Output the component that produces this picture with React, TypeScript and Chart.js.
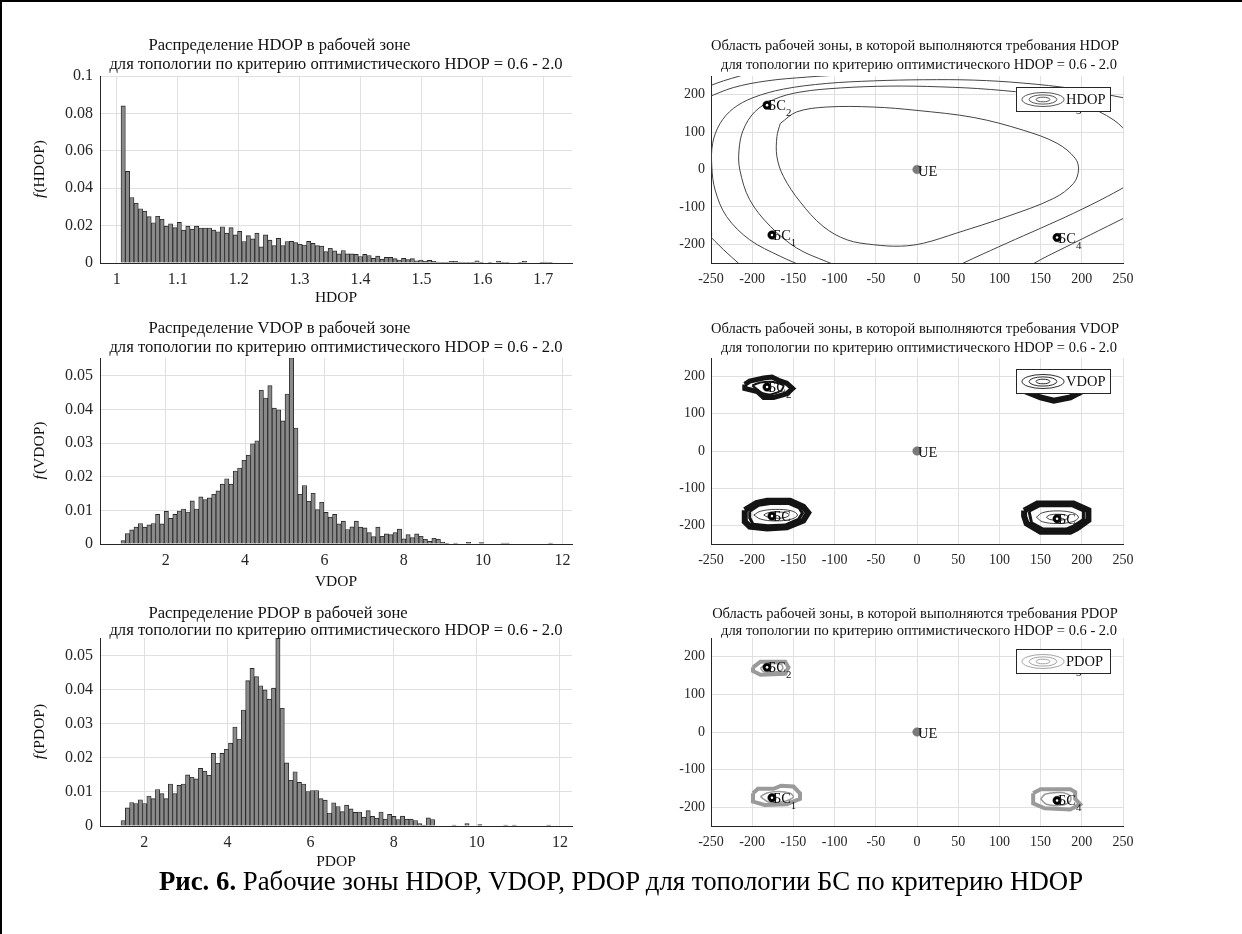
import React, { useEffect, useRef } from 'react';
import { Chart, registerables } from 'chart.js';

Chart.register(...registerables);

const SERIF = '"Liberation Serif", "Times New Roman", Times, serif';
const TEXT = '#111111';
const AXIS = '#262626';
const GRID = '#e0e0e0';
const BAR_FILL = '#8a8a8a';
const BAR_EDGE = '#2a2a2a';
const TICK_SIZE = 16;
const TITLE_SIZE = 16.6;
const LABEL_SIZE = 15.5;
const MAP_TICK_SIZE = 14;
const MAP_TITLE_SIZE = 14.5;
const MAP_LABEL_SIZE = 14.5;

// ---------------- Histogram data ----------------
const subtitle = 'для топологии по критерию оптимистического HDOP = 0.6 - 2.0';

const hdopBinStart = 1.007;
const hdopBinWidth = 0.00708;
const hdopValues = [
  0.084, 0.049, 0.035, 0.032, 0.029, 0.0277, 0.0248, 0.0215, 0.025, 0.0234,
  0.0197, 0.021, 0.0189, 0.0217, 0.0176, 0.0197, 0.0181, 0.0197, 0.0187, 0.0187,
  0.0187, 0.0176, 0.0167, 0.0194, 0.016, 0.0189, 0.015, 0.0169, 0.0115, 0.0146,
  0.0129, 0.016, 0.0086, 0.015, 0.0122, 0.0093, 0.0132, 0.0093, 0.0115, 0.0116,
  0.0109, 0.01, 0.0096, 0.0116, 0.0105, 0.0093, 0.009, 0.0061, 0.0079, 0.0065,
  0.0049, 0.0067, 0.0049, 0.0049, 0.0046, 0.0035, 0.0046, 0.004, 0.0025, 0.0037,
  0.0021, 0.003, 0.003, 0.0023, 0.0016, 0.0025, 0.0018, 0.0023, 0.0012, 0.0016,
  0.001, 0.0014, 0.0009, 0.0005, 0.0004, 0.0004, 0.0009, 0.0009, 0.0005, 0.0003,
  0.0002, 0.0002, 0.0012, 0.0002, 0, 0.0002, 0, 0.0009, 0.0003, 0.0001,
  0, 0, 0.0002, 0.0009, 0, 0, 0, 0.0001, 0.0005, 0.0002,
];
const hdopXTicks = [1, 1.1, 1.2, 1.3, 1.4, 1.5, 1.6, 1.7];
const hdopXTickLabels = ['1', '1.1', '1.2', '1.3', '1.4', '1.5', '1.6', '1.7'];
const hdopYTicks = [0, 0.02, 0.04, 0.06, 0.08, 0.1];
const hdopYTickLabels = ['0', '0.02', '0.04', '0.06', '0.08', '0.1'];

const vdopBinStart = 0.874;
const vdopBinWidth = 0.1088;
const vdopValues = [
  0.001, 0.0031, 0.0042, 0.005, 0.0061, 0.005, 0.0057, 0.0061, 0.0088, 0.006,
  0.0097, 0.0076, 0.0088, 0.0098, 0.0104, 0.0095, 0.0128, 0.0104, 0.014, 0.0132,
  0.0137, 0.0148, 0.0158, 0.0178, 0.0194, 0.0178, 0.0217, 0.0226, 0.0249, 0.0264,
  0.0298, 0.0307, 0.0457, 0.0434, 0.0471, 0.0404, 0.0399, 0.0366, 0.0446, 0.0554,
  0.0345, 0.0148, 0.0174, 0.0127, 0.0151, 0.0102, 0.0124, 0.0094, 0.008, 0.0088,
  0.006, 0.0068, 0.0043, 0.0051, 0.0068, 0.005, 0.0048, 0.0034, 0.0022, 0.005,
  0.0023, 0.003, 0.0028, 0.0034, 0.0044, 0.0015, 0.0028, 0.0019, 0.003, 0.0023,
  0.0014, 0.0008, 0.0017, 0.0014, 0.0006, 0.0001, 0, 0.0003, 0, 0,
  0.0005, 0, 0, 0.0004, 0, 0, 0, 0, 0.0003, 0.0003,
  0, 0, 0, 0, 0, 0, 0, 0, 0, 0.0003,
];
const dopXTicks = [2, 4, 6, 8, 10, 12];
const dopXTickLabels = ['2', '4', '6', '8', '10', '12'];
const dopYTicks = [0, 0.01, 0.02, 0.03, 0.04, 0.05];
const dopYTickLabels = ['0', '0.01', '0.02', '0.03', '0.04', '0.05'];

const pdopBinStart = 1.44;
const pdopBinWidth = 0.1034;
const pdopValues = [
  0.0016, 0.0053, 0.0069, 0.0066, 0.0077, 0.0066, 0.0088, 0.008, 0.0107, 0.0095,
  0.008, 0.0123, 0.0095, 0.0119, 0.0123, 0.015, 0.0143, 0.0138, 0.0169, 0.0161,
  0.0149, 0.0213, 0.0184, 0.0213, 0.0225, 0.0243, 0.029, 0.0255, 0.034, 0.0426,
  0.0462, 0.0438, 0.0411, 0.0399, 0.0372, 0.0404, 0.0551, 0.0345, 0.0185, 0.0134,
  0.0159, 0.0128, 0.0123, 0.0101, 0.0104, 0.0104, 0.008, 0.0076, 0.0038, 0.0068,
  0.0057, 0.0042, 0.0061, 0.005, 0.004, 0.0041, 0.0026, 0.0045, 0.0028, 0.0023,
  0.0041, 0.002, 0.0034, 0.0028, 0.0019, 0.0029, 0.002, 0.002, 0.0016, 0.0007,
  0.0003, 0.0024, 0.0019, 0, 0, 0, 0, 0.0003, 0, 0,
  0.0007, 0, 0, 0.0004, 0, 0, 0, 0, 0, 0.0003,
  0, 0.0003, 0, 0, 0, 0, 0, 0, 0, 0.0003,
];

// ---------------- Contour-map data ----------------
const mapTicksX = [-250, -200, -150, -100, -50, 0, 50, 100, 150, 200, 250];
const mapTicksY = [-200, -100, 0, 100, 200];

const stationX = [-176, -182, 170, 170];
const stationY = [-175, 172, 178, -182];
const stationNames = ['1', '2', '3', '4'];
const ueX = 0;
const ueY = 0;

type Pt = [number, number];

const hdopLine1: Pt[] = [[-166, 123], [-146, 154], [-110, 167], [-53, 167], [0, 158], [69, 139], [129, 105], [170, 70], [192, 30], [196, -1], [190, -37], [166, -77], [109, -126], [48, -170], [8, -197], [-20, -205], [-53, -201], [-85, -188], [-114, -152], [-142, -86], [-162, -19], [-170, 34], [-170, 88], [-166, 123]];
const hdopLine2: Pt[] = [[-73, -277], [-110, -246], [-146, -210], [-178, -152], [-203, -81], [-215, -1], [-216, 52], [-211, 105], [-197, 154], [-174, 187], [-142, 207], [-93, 218], [-33, 223], [28, 221], [89, 214], [150, 199], [202, 172], [239, 132], [259, 88], [275, 40]];
const hdopLine2b: Pt[] = [[275, -10], [259, -37], [231, -72], [190, -117], [150, -157], [109, -197], [69, -237], [44, -263]];
const hdopLine3: Pt[] = [[-134, -263], [-166, -232], [-203, -188], [-231, -126], [-245, -55], [-249, 8], [-248, 70], [-239, 123], [-223, 163], [-199, 192], [-162, 215], [-110, 230], [-53, 237], [8, 240], [69, 239], [129, 231], [190, 216], [250, 192], [263, 185]];
const hdopLine3b: Pt[] = [[263, -117], [231, -152], [190, -197], [150, -241], [133, -263]];
const hdopLine4: Pt[] = [[-255, 192], [-223, 219], [-182, 237], [-134, 247], [-85, 254]];
const hdopLine5: Pt[] = [[-255, 221], [-235, 237], [-215, 250], [-199, 261]];
const hdopLine6: Pt[] = [[-255, -170], [-235, -214], [-215, -254]];

const vdopBlob1Outer: Pt[] = [[-209, -159], [-195, -140], [-182, -134], [-154, -134], [-138, -150], [-132, -166], [-138, -187], [-158, -205], [-182, -208], [-203, -203], [-209, -190], [-209, -159]];
const vdopBlob1Mid: Pt[] = [[-203, -162], [-192, -146], [-178, -141], [-156, -141], [-143, -153], [-139, -167], [-144, -184], [-160, -199], [-181, -201], [-199, -197], [-203, -180], [-203, -162]];
const vdopBlob1InnerA: Pt[] = [[-198, -172], [-190, -162], [-172, -157], [-152, -161], [-145, -172], [-152, -183], [-172, -188], [-190, -183], [-198, -172]];
const vdopBlob1InnerB: Pt[] = [[-186, -172], [-181, -166], [-170, -164], [-159, -166], [-155, -172], [-159, -178], [-170, -181], [-181, -178], [-186, -172]];
const vdopBlob4Outer: Pt[] = [[130, -160], [146, -141], [190, -141], [208, -159], [208, -186], [194, -208], [186, -217], [150, -217], [133, -195], [130, -175], [130, -160]];
const vdopBlob4Mid: Pt[] = [[136, -162], [149, -147], [188, -147], [202, -161], [202, -184], [189, -203], [181, -210], [153, -210], [139, -193], [136, -162]];
const vdopBlob4InnerA: Pt[] = [[145, -178], [152, -166], [170, -161], [189, -166], [196, -178], [189, -190], [170, -195], [152, -190], [145, -178]];
const vdopBlob4InnerB: Pt[] = [[157, -178], [161, -172], [170, -170], [180, -172], [184, -178], [180, -184], [170, -186], [161, -184], [157, -178]];
const vdopBlob2Outer: Pt[] = [[-209, 179], [-203, 188], [-186, 196], [-176, 199], [-168, 190], [-158, 182], [-151, 168], [-158, 154], [-174, 144], [-186, 144], [-194, 160], [-209, 168], [-209, 179]];
const vdopBlob2Inner: Pt[] = [[-200, 176], [-190, 184], [-176, 186], [-162, 176], [-165, 162], [-178, 152], [-188, 156], [-194, 166], [-200, 176]];
const vdopBlob3Outer: Pt[] = [[129, 185], [129, 163], [150, 144], [166, 135], [186, 144], [202, 163], [202, 190], [186, 205], [150, 205], [129, 185]];

const pdopBlob1Outer: Pt[] = [[-199, -163], [-193, -151], [-174, -151], [-165, -143], [-150, -145], [-142, -163], [-142, -178], [-158, -192], [-185, -194], [-199, -185], [-199, -163]];
const pdopBlob1Inner: Pt[] = [[-190, -172], [-182, -162], [-168, -158], [-154, -163], [-150, -173], [-160, -184], [-180, -186], [-190, -172]];
const pdopBlob4Outer: Pt[] = [[141, -163], [150, -152], [186, -152], [192, -160], [192, -178], [198, -192], [186, -206], [155, -203], [141, -190], [141, -163]];
const pdopBlob4Inner: Pt[] = [[150, -178], [156, -165], [175, -161], [186, -170], [186, -184], [175, -195], [157, -192], [150, -178]];
const pdopBlob2Outer: Pt[] = [[-199, 172], [-190, 187], [-160, 187], [-156, 172], [-160, 155], [-190, 152], [-199, 162], [-199, 172]];
const pdopBlob2Inner: Pt[] = [[-190, 170], [-183, 180], [-165, 180], [-163, 168], [-170, 160], [-186, 160], [-190, 170]];
const pdopBlob3Outer: Pt[] = [[140, 190], [150, 162], [190, 162], [196, 190], [172, 205], [140, 190]];

// ---------------- Layout ----------------
type Box = { left: number; top: number; width: number; height: number };
type Area = { l: number; t: number; r: number; b: number };

type HistCfg = {
  box: Box; area: Area; titleY: [number, number]; title1: string; xLabel: string; yName: string; xLabelY: number;
  values: number[]; binStart: number; binWidth: number; xMin: number; xMax: number; yMax: number;
  xTicks: number[]; xTickLabels: string[]; yTicks: number[]; yTickLabels: string[];
};

type LineSpec = { pts: Pt[]; color: string; width: number; tension: number };
type MapCfg = {
  box: Box; area: Area; titleY: [number, number]; title1: string; legend: string; legendColor: string; lines: LineSpec[];
};

function labelFor(v: number, ticks: number[], labels: string[]) {
  let best = 0;
  for (let i = 1; i < ticks.length; i++) if (Math.abs(ticks[i] - v) < Math.abs(ticks[best] - v)) best = i;
  return labels[best];
}

function HistPanel({ cfg }: { cfg: HistCfg }) {
  const ref = useRef<HTMLCanvasElement>(null);
  useEffect(() => {
    const { box, area } = cfg;
    const padTop = area.t - box.top;
    const padRight = box.left + box.width - area.r;
    const leftW = area.l - box.left;
    const bottomH = box.top + box.height - area.b;
    const texts = {
      id: 'histTexts',
      afterDraw(chart: any) {
        const ctx = chart.ctx as CanvasRenderingContext2D;
        const a = chart.chartArea;
        ctx.save();
        ctx.fillStyle = TEXT;
        ctx.textBaseline = 'middle';
        ctx.font = `${TITLE_SIZE}px ${SERIF}`;
        const cx = (a.left + a.right) / 2;
        const w2 = ctx.measureText(subtitle).width;
        ctx.textAlign = 'left';
        ctx.fillText(subtitle, cx - w2 / 2, cfg.titleY[1] - box.top);
        ctx.fillText(cfg.title1, cx - w2 / 2 + 39, cfg.titleY[0] - box.top);
        ctx.textAlign = 'center';
        ctx.font = `${LABEL_SIZE}px ${SERIF}`;
        ctx.fillText(cfg.xLabel, cx, cfg.xLabelY - box.top);
        // y label
        ctx.translate(40 - box.left, (a.top + a.bottom) / 2);
        ctx.rotate(-Math.PI / 2);
        ctx.textAlign = 'left';
        ctx.font = `italic ${LABEL_SIZE}px ${SERIF}`;
        const fw = ctx.measureText('f').width;
        ctx.font = `${LABEL_SIZE}px ${SERIF}`;
        const rest = `(${cfg.yName})`;
        const rw = ctx.measureText(rest).width;
        const x0 = -(fw + rw) / 2;
        ctx.font = `italic ${LABEL_SIZE}px ${SERIF}`;
        ctx.fillText('f', x0, 0);
        ctx.font = `${LABEL_SIZE}px ${SERIF}`;
        ctx.fillText(rest, x0 + fw + 1, 0);
        ctx.restore();
      },
    };
    const chart = new Chart(ref.current as HTMLCanvasElement, {
      type: 'bar',
      data: {
        datasets: [
          {
            data: cfg.values.map((v, i) => ({ x: cfg.binStart + cfg.binWidth * (i + 0.5), y: v })),
            backgroundColor: BAR_FILL,
            borderColor: BAR_EDGE,
            borderWidth: 0.9,
            barPercentage: 1,
            categoryPercentage: 1,
          } as any,
        ],
      },
      options: {
        animation: false,
        responsive: false,
        maintainAspectRatio: false,
        layout: { padding: { top: padTop, right: padRight, left: 0, bottom: 0 } },
        plugins: { legend: { display: false }, tooltip: { enabled: false }, title: { display: false } },
        scales: {
          x: {
            type: 'linear',
            min: cfg.xMin,
            max: cfg.xMax,
            offset: false,
            grid: { color: GRID, drawTicks: false, offset: false },
            border: { display: true, color: AXIS, width: 1 },
            ticks: {
              font: { family: SERIF, size: TICK_SIZE },
              color: AXIS,
              padding: 7,
              autoSkip: false,
              maxRotation: 0,
              callback: (v: any) => labelFor(Number(v), cfg.xTicks, cfg.xTickLabels),
            },
            afterBuildTicks: (s: any) => { s.ticks = cfg.xTicks.map((v) => ({ value: v })); },
            afterFit: (s: any) => { s.height = bottomH; },
          },
          y: {
            type: 'linear',
            min: 0,
            max: cfg.yMax,
            grid: { color: GRID, drawTicks: false },
            border: { display: true, color: AXIS, width: 1 },
            ticks: {
              font: { family: SERIF, size: TICK_SIZE },
              color: AXIS,
              padding: 7,
              callback: (v: any) => labelFor(Number(v), cfg.yTicks, cfg.yTickLabels),
            },
            afterBuildTicks: (s: any) => { s.ticks = cfg.yTicks.map((v) => ({ value: v })); },
            afterFit: (s: any) => { s.width = leftW; },
          },
        },
      } as any,
      plugins: [texts],
    });
    return () => chart.destroy();
  }, []);
  return (
    <canvas
      ref={ref}
      width={cfg.box.width}
      height={cfg.box.height}
      style={{ position: 'absolute', left: cfg.box.left, top: cfg.box.top, width: cfg.box.width, height: cfg.box.height }}
    />
  );
}

function MapPanel({ cfg }: { cfg: MapCfg }) {
  const ref = useRef<HTMLCanvasElement>(null);
  useEffect(() => {
    const { box, area } = cfg;
    const padTop = area.t - box.top;
    const padRight = box.left + box.width - area.r;
    const leftW = area.l - box.left;
    const bottomH = box.top + box.height - area.b;
    const overlay = {
      id: 'mapOverlay',
      afterDatasetsDraw(chart: any) {
        const ctx = chart.ctx as CanvasRenderingContext2D;
        const a = chart.chartArea;
        const sx = chart.scales.x;
        const sy = chart.scales.y;
        ctx.save();
        ctx.beginPath();
        ctx.rect(a.left, a.top, a.right - a.left, a.bottom - a.top);
        ctx.clip();
        ctx.fillStyle = TEXT;
        ctx.textBaseline = 'alphabetic';
        ctx.textAlign = 'left';
        for (let i = 0; i < stationX.length; i++) {
          const px = sx.getPixelForValue(stationX[i]);
          const py = sy.getPixelForValue(stationY[i]);
          ctx.font = `${MAP_LABEL_SIZE}px ${SERIF}`;
          ctx.fillText('БС', px + 1, py + 5);
          const w = ctx.measureText('БС').width;
          ctx.font = `${MAP_LABEL_SIZE * 0.75}px ${SERIF}`;
          ctx.fillText(stationNames[i], px + 1 + w, py + 11);
        }
        const ux = sx.getPixelForValue(ueX);
        const uy = sy.getPixelForValue(ueY);
        ctx.font = `${MAP_LABEL_SIZE}px ${SERIF}`;
        ctx.fillText('UE', ux + 1, uy + 6);
        ctx.restore();
        // legend
        ctx.save();
        const lw = 95;
        const lh = 25;
        const lx = a.right - 12 - lw;
        const ly = a.top + 11;
        ctx.fillStyle = '#ffffff';
        ctx.fillRect(lx, ly, lw, lh);
        ctx.strokeStyle = AXIS;
        ctx.lineWidth = 1;
        ctx.strokeRect(lx + 0.5, ly + 0.5, lw - 1, lh - 1);
        ctx.strokeStyle = cfg.legendColor;
        ctx.lineWidth = 0.9;
        const ecx = lx + 27;
        const ecy = ly + lh / 2;
        for (const k of [1, 0.66, 0.33]) {
          ctx.beginPath();
          ctx.ellipse(ecx, ecy, 21 * k, 7 * k, 0, 0, Math.PI * 2);
          ctx.stroke();
        }
        ctx.fillStyle = TEXT;
        ctx.font = `${MAP_LABEL_SIZE}px ${SERIF}`;
        ctx.textBaseline = 'middle';
        ctx.textAlign = 'left';
        ctx.fillText(cfg.legend, lx + 50, ecy + 1);
        ctx.restore();
      },
      afterDraw(chart: any) {
        const ctx = chart.ctx as CanvasRenderingContext2D;
        const a = chart.chartArea;
        ctx.save();
        ctx.fillStyle = TEXT;
        ctx.textBaseline = 'middle';
        ctx.textAlign = 'center';
        ctx.font = `${MAP_TITLE_SIZE}px ${SERIF}`;
        const cx = (a.left + a.right) / 2;
        ctx.fillText(cfg.title1, cx - 2, cfg.titleY[0] - box.top);
        ctx.fillText(subtitle, cx + 2, cfg.titleY[1] - box.top);
        ctx.restore();
      },
    };
    const datasets: any[] = [
      {
        data: stationX.map((x, i) => ({ x, y: stationY[i] })),
        pointRadius: 1.3,
        backgroundColor: '#ffffff',
        borderWidth: 0,
        showLine: false,
        order: 0,
      },
      {
        data: stationX.map((x, i) => ({ x, y: stationY[i] })),
        pointRadius: 4.2,
        backgroundColor: '#000000',
        borderColor: '#000000',
        borderWidth: 0.5,
        showLine: false,
        order: 1,
      },
      {
        data: [{ x: ueX, y: ueY }],
        pointRadius: 4.3,
        backgroundColor: '#7a7a7a',
        borderColor: '#7a7a7a',
        borderWidth: 0.5,
        showLine: false,
        order: 1,
      },
      ...cfg.lines.map((l) => ({
        data: l.pts.map(([x, y]) => ({ x, y })),
        showLine: true,
        borderColor: l.color,
        borderWidth: l.width,
        pointRadius: 0,
        tension: l.tension,
        fill: false,
        order: 10,
      })),
    ];
    const chart = new Chart(ref.current as HTMLCanvasElement, {
      type: 'scatter',
      data: { datasets },
      options: {
        animation: false,
        responsive: false,
        maintainAspectRatio: false,
        layout: { padding: { top: padTop, right: padRight, left: 0, bottom: 0 } },
        plugins: { legend: { display: false }, tooltip: { enabled: false }, title: { display: false } },
        scales: {
          x: {
            type: 'linear',
            min: -250,
            max: 250,
            grid: { color: GRID, drawTicks: false },
            border: { display: true, color: AXIS, width: 1 },
            ticks: {
              font: { family: SERIF, size: MAP_TICK_SIZE },
              color: AXIS,
              padding: 8,
              autoSkip: false,
              maxRotation: 0,
              callback: (v: any) => String(v),
            },
            afterBuildTicks: (s: any) => { s.ticks = mapTicksX.map((v) => ({ value: v })); },
            afterFit: (s: any) => { s.height = bottomH; },
          },
          y: {
            type: 'linear',
            min: -250,
            max: 250,
            grid: { color: GRID, drawTicks: false },
            border: { display: true, color: AXIS, width: 1 },
            ticks: {
              font: { family: SERIF, size: MAP_TICK_SIZE },
              color: AXIS,
              padding: 6,
              callback: (v: any) => String(v),
            },
            afterBuildTicks: (s: any) => { s.ticks = mapTicksY.map((v) => ({ value: v })); },
            afterFit: (s: any) => { s.width = leftW; },
          },
        },
      } as any,
      plugins: [overlay],
    });
    return () => chart.destroy();
  }, []);
  return (
    <canvas
      ref={ref}
      width={cfg.box.width}
      height={cfg.box.height}
      style={{ position: 'absolute', left: cfg.box.left, top: cfg.box.top, width: cfg.box.width, height: cfg.box.height }}
    />
  );
}

const HC = '#444444';
const VC = '#141414';
const PC = '#9a9a9a';

const hist1: HistCfg = {
  box: { left: 0, top: 0, width: 620, height: 310 }, area: { l: 100, t: 76, r: 572, b: 263 }, titleY: [46, 65],
  title1: 'Распределение HDOP в рабочей зоне', xLabel: 'HDOP', yName: 'HDOP', xLabelY: 298,
  values: hdopValues, binStart: hdopBinStart, binWidth: hdopBinWidth, xMin: 0.9725, xMax: 1.747, yMax: 0.1,
  xTicks: hdopXTicks, xTickLabels: hdopXTickLabels, yTicks: hdopYTicks, yTickLabels: hdopYTickLabels,
};
const hist2: HistCfg = {
  box: { left: 0, top: 310, width: 620, height: 290 }, area: { l: 100, t: 358, r: 572, b: 544 }, titleY: [329, 348],
  title1: 'Распределение VDOP в рабочей зоне', xLabel: 'VDOP', yName: 'VDOP', xLabelY: 582,
  values: vdopValues, binStart: vdopBinStart, binWidth: vdopBinWidth, xMin: 0.345, xMax: 12.24, yMax: 0.0553,
  xTicks: dopXTicks, xTickLabels: dopXTickLabels, yTicks: dopYTicks, yTickLabels: dopYTickLabels,
};
const hist3: HistCfg = {
  box: { left: 0, top: 600, width: 620, height: 270 }, area: { l: 100, t: 638, r: 572, b: 826 }, titleY: [614, 631],
  title1: 'Распределение PDOP в рабочей зоне', xLabel: 'PDOP', yName: 'PDOP', xLabelY: 862,
  values: pdopValues, binStart: pdopBinStart, binWidth: pdopBinWidth, xMin: 0.934, xMax: 12.29, yMax: 0.0551,
  xTicks: dopXTicks, xTickLabels: dopXTickLabels, yTicks: dopYTicks, yTickLabels: dopYTickLabels,
};

const map1: MapCfg = {
  box: { left: 620, top: 0, width: 622, height: 310 }, area: { l: 711, t: 76, r: 1123, b: 263 }, titleY: [46, 65],
  title1: 'Область рабочей зоны, в которой выполняются требования HDOP', legend: 'HDOP', legendColor: HC,
  lines: [hdopLine1, hdopLine2, hdopLine2b, hdopLine3, hdopLine3b, hdopLine4, hdopLine5, hdopLine6].map((pts) => ({ pts, color: HC, width: 1, tension: 0.35 })),
};
const map2: MapCfg = {
  box: { left: 620, top: 310, width: 622, height: 290 }, area: { l: 711, t: 358, r: 1123, b: 544 }, titleY: [329, 348],
  title1: 'Область рабочей зоны, в которой выполняются требования VDOP', legend: 'VDOP', legendColor: VC,
  lines: [
    { pts: vdopBlob1Outer, color: VC, width: 6, tension: 0 },
    { pts: vdopBlob1Mid, color: VC, width: 3, tension: 0 },
    { pts: vdopBlob1InnerA, color: VC, width: 0.8, tension: 0.35 },
    { pts: vdopBlob1InnerB, color: VC, width: 0.8, tension: 0.35 },
    { pts: vdopBlob4Outer, color: VC, width: 6, tension: 0 },
    { pts: vdopBlob4Mid, color: VC, width: 3, tension: 0 },
    { pts: vdopBlob4InnerA, color: VC, width: 0.8, tension: 0.35 },
    { pts: vdopBlob4InnerB, color: VC, width: 0.8, tension: 0.35 },
    { pts: vdopBlob2Outer, color: VC, width: 5, tension: 0 },
    { pts: vdopBlob2Inner, color: VC, width: 2, tension: 0.2 },
    { pts: vdopBlob3Outer, color: VC, width: 6, tension: 0 },
  ],
};
const map3: MapCfg = {
  box: { left: 620, top: 600, width: 622, height: 270 }, area: { l: 711, t: 638, r: 1123, b: 826 }, titleY: [614, 631],
  title1: 'Область рабочей зоны, в которой выполняются требования PDOP', legend: 'PDOP', legendColor: PC,
  lines: [
    { pts: pdopBlob1Outer, color: PC, width: 4, tension: 0 },
    { pts: pdopBlob1Inner, color: PC, width: 1.5, tension: 0.3 },
    { pts: pdopBlob4Outer, color: PC, width: 4, tension: 0 },
    { pts: pdopBlob4Inner, color: PC, width: 1.5, tension: 0.3 },
    { pts: pdopBlob2Outer, color: PC, width: 4, tension: 0 },
    { pts: pdopBlob2Inner, color: PC, width: 1.5, tension: 0.3 },
    { pts: pdopBlob3Outer, color: PC, width: 4, tension: 0 },
  ],
};

export default function App() {
  return (
    <div
      style={{
        position: 'absolute', left: 0, top: 0, width: 1242, height: 934, background: '#ffffff', overflow: 'hidden',
        fontFamily: SERIF,
      }}
    >
      <div style={{ position: 'absolute', left: 0, top: 0, width: 1242, height: 934, borderTop: '2px solid #000', borderLeft: '2px solid #000', boxSizing: 'border-box' }} />
      <HistPanel cfg={hist1} />
      <HistPanel cfg={hist2} />
      <HistPanel cfg={hist3} />
      <MapPanel cfg={map1} />
      <MapPanel cfg={map2} />
      <MapPanel cfg={map3} />
      <div
        style={{
          position: 'absolute', left: 0, top: 864, width: 1242, textAlign: 'center', fontSize: 26.8, lineHeight: '34px', color: '#000',
          fontFamily: SERIF, whiteSpace: 'nowrap',
        }}
      >
        <b>Рис. 6.</b> Рабочие зоны HDOP, VDOP, PDOP для топологии БС по критерию HDOP
      </div>
    </div>
  );
}
